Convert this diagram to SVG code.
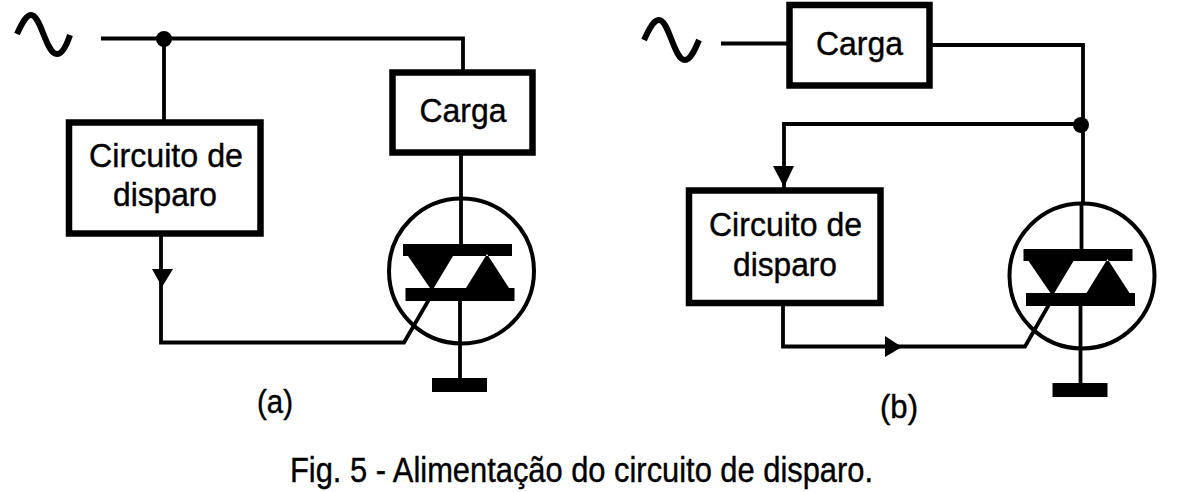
<svg xmlns="http://www.w3.org/2000/svg" width="1193" height="492" viewBox="0 0 1193 492">
<style>
.w{fill:none;stroke:#000;stroke-width:3.8;stroke-linejoin:miter}
.box{fill:#fff;stroke:#000;stroke-width:6.500}
.sine{fill:none;stroke:#000;stroke-width:6}
.ring{fill:none;stroke:#000;stroke-width:4}
text{font-family:"Liberation Sans",Arial,sans-serif;fill:#000;stroke:#000;stroke-width:.4;text-anchor:middle}
.l{font-size:33px}
.c{font-size:35px}
</style>
<defs>
<g id="triac">
<circle class="ring" cx="461.500" cy="271" r="72.500"/>
<path d="M403 244H512V256H403ZM405.500 288H514.500V301H405.500ZM408 256H453L432 291ZM487 254L466 288H509Z" fill="#000"/>
<path class="w" d="M460 300V378M461 197V244"/>
<rect x="432" y="378" width="55" height="14" fill="#000"/>
</g>
</defs>
<rect width="1193" height="492" fill="#fff"/>
<g id="connectors">
<path class="w" d="M101 38.500H463V72M461 155V200"/>
<path class="w" d="M164 40V120M161 236V342.500H404L431 296"/>
<circle cx="164" cy="39" r="8"/>
<path d="M152 269H173L162 287Z" fill="#000"/>
<path class="w" d="M721 43.500H788M931 45H1083V205"/>
<path class="w" d="M1082 124H784V188M783 304V346.500H1025L1051 301"/>
<circle cx="1081" cy="125" r="8"/>
<path d="M773 166H794L784 187Z" fill="#000"/>
<path d="M885 336L902 347L885 357Z" fill="#000"/>
</g>
<path id="source-a" class="sine" d="M17 34C23 21 27 15 31 15C41 15 46 54 57 54C62 54 66 47 70 35"/>
<path id="source-b" class="sine" d="M644 40C650 27 654 20 659 20C669 20 674 60 685 60C690 60 694 52 699 40"/>
<g id="carga-a"><rect class="box" x="392.500" y="72.500" width="140" height="80"/><text class="l" x="463" y="122" textLength="87" lengthAdjust="spacingAndGlyphs">Carga</text></g>
<g id="disparo-a"><rect class="box" x="69" y="122.500" width="191.500" height="111"/><text class="l" x="166" y="167" textLength="154" lengthAdjust="spacingAndGlyphs">Circuito de</text><text class="l" x="165" y="206" textLength="104" lengthAdjust="spacingAndGlyphs">disparo</text></g>
<g id="triac-a"><use href="#triac"/></g>
<g id="carga-b"><rect class="box" x="789.500" y="5" width="140" height="80.500"/><text class="l" x="859.500" y="55" textLength="87" lengthAdjust="spacingAndGlyphs">Carga</text></g>
<g id="disparo-b"><rect class="box" x="689" y="190.500" width="191.500" height="112.500"/><text class="l" x="785.500" y="236" textLength="153" lengthAdjust="spacingAndGlyphs">Circuito de</text><text class="l" x="785" y="276" textLength="104" lengthAdjust="spacingAndGlyphs">disparo</text></g>
<g id="triac-b"><use href="#triac" x="620.500" y="5"/></g>
<text class="l" x="275" y="413" textLength="36" lengthAdjust="spacingAndGlyphs">(a)</text>
<text class="l" x="899" y="418" textLength="38" lengthAdjust="spacingAndGlyphs">(b)</text>
<text class="c" x="581.500" y="482" textLength="583" lengthAdjust="spacingAndGlyphs">Fig. 5 - Alimentação do circuito de disparo.</text>
</svg>
